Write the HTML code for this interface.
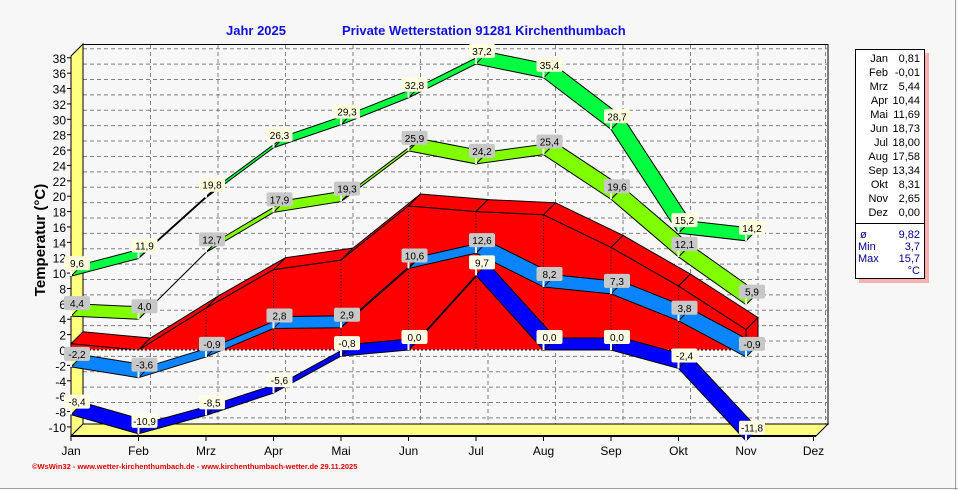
<!DOCTYPE html>
<html><head><meta charset="utf-8"><style>
html,body{margin:0;padding:0;background:#f7f7f7;}
svg{display:block;font-family:"Liberation Sans",sans-serif;}
</style></head><body>
<svg id="s" width="958" height="490" xmlns="http://www.w3.org/2000/svg">
<rect x="0" y="0" width="958" height="490" fill="#f7f7f7"/>
<line x1="0" y1="488.5" x2="958" y2="488.5" stroke="#a0a0a0"/>
<line x1="955.5" y1="0" x2="955.5" y2="490" stroke="#a0a0a0"/>
<text x="226" y="35" fill="#1010e0" font-weight="bold" font-size="13">Jahr  2025</text>
<text x="342" y="35" fill="#1010e0" font-weight="bold" font-size="13">Private Wetterstation 91281 Kirchenthumbach</text>
<text transform="translate(45,240) rotate(-90)" text-anchor="middle" font-weight="bold" font-size="15" fill="#000">Temperatur  (°C)</text>
<text x="32" y="469" fill="#e00000" font-size="7.5" font-weight="bold">©WsWin32 - www.wetter-kirchenthumbach.de - www.kirchenthumbach-wetter.de  29.11.2025</text>
<g id="g"></g>
<!-- legend -->
<rect x="859" y="53" width="70" height="230" fill="#ffb0b0"/>
<rect x="855.5" y="49.5" width="69" height="229" fill="#fff" stroke="#000"/>
<line x1="855" y1="223.5" x2="924" y2="223.5" stroke="#000"/>
<g font-size="11" fill="#000" text-anchor="end">
<text x="888" y="62">Jan</text><text x="920" y="62">0,81</text>
<text x="888" y="76">Feb</text><text x="920" y="76">-0,01</text>
<text x="888" y="90">Mrz</text><text x="920" y="90">5,44</text>
<text x="888" y="104">Apr</text><text x="920" y="104">10,44</text>
<text x="888" y="118">Mai</text><text x="920" y="118">11,69</text>
<text x="888" y="132">Jun</text><text x="920" y="132">18,73</text>
<text x="888" y="146">Jul</text><text x="920" y="146">18,00</text>
<text x="888" y="160">Aug</text><text x="920" y="160">17,58</text>
<text x="888" y="174">Sep</text><text x="920" y="174">13,34</text>
<text x="888" y="188">Okt</text><text x="920" y="188">8,31</text>
<text x="888" y="202">Nov</text><text x="920" y="202">2,65</text>
<text x="888" y="216">Dez</text><text x="920" y="216">0,00</text>
</g>
<g font-size="11" fill="#00008b">
<text x="860" y="238">ø</text><text x="920" y="238" text-anchor="end">9,82</text>
<text x="858" y="250">Min</text><text x="920" y="250" text-anchor="end">3,7</text>
<text x="858" y="262">Max</text><text x="920" y="262" text-anchor="end">15,7</text>
<text x="920" y="274" text-anchor="end">°C</text>
</g>
</svg>
<script>
var g=document.getElementById('g'),h='';
function Y(v){return 350-v*7.69;}
function X(i){return 71+i*67.5;}
var D=12;
// back wall
h+='<rect x="83" y="44.5" width="745" height="380" fill="#f7f7f7" stroke="#000"/>';
for(var v=-10;v<=38;v+=2){var y=Y(v)-D+3;h+='<line x1="83" x2="828" y1="'+y+'" y2="'+y+'" stroke="#808080" stroke-dasharray="4,3"/>';}
for(var i=1;i<12;i++){var x=X(i)+D;h+='<line x1="'+x+'" x2="'+x+'" y1="45" y2="424" stroke="#808080" stroke-dasharray="4,3"/>';}
// left wall & floor
h+='<polygon points="71,56 83,44 83,424 71,436" fill="#ffff80" stroke="#000"/>';
h+='<polygon points="71,436 83,424 828,424 816,436" fill="#ffff80" stroke="#000"/>';
h+='<line x1="71" y1="436" x2="816" y2="436" stroke="#000" stroke-width="2"/>';
for(var v=-10;v<=38;v+=2){var y=Y(v);h+='<line x1="67" x2="71" y1="'+y+'" y2="'+y+'" stroke="#000"/><text x="66" y="'+(y+5)+'" text-anchor="end" font-size="12">'+v+'</text>';}
var M=['Jan','Feb','Mrz','Apr','Mai','Jun','Jul','Aug','Sep','Okt','Nov','Dez'];
for(var i=0;i<12;i++){h+='<text x="'+X(i)+'" y="455" text-anchor="middle" font-size="12">'+M[i]+'</text><line x1="'+X(i)+'" x2="'+X(i)+'" y1="436" y2="441" stroke="#000"/>';}
function rib(d,c){var s='';for(var i=0;i<d.length-1;i++){var a=X(i),b=X(i+1),ya=Y(d[i]),yb=Y(d[i+1]);
s+='<polygon points="'+a+','+ya+' '+b+','+yb+' '+(b+D)+','+(yb-D)+' '+(a+D)+','+(ya-D)+'" fill="'+c+'" stroke="#000" stroke-width="1"/>';}return s;}
var mean=[0.81,-0.01,5.44,10.44,11.69,18.73,18,17.58,13.34,8.31,2.65];
// red area
var p='';for(var i=0;i<11;i++)p+=X(i)+','+Y(mean[i])+' ';
h+=rib(mean,'#ff0000');
h+='<polygon points="'+X(10)+','+Y(mean[10])+' '+(X(10)+D)+','+(Y(mean[10])-D)+' '+(X(10)+D)+','+(350-D)+' '+X(10)+',350" fill="#ff0000" stroke="#000"/>';
h+='<polygon points="'+p+X(10)+',350 '+X(0)+',350" fill="#ff0000" stroke="#000"/>';
for(var i=1;i<10;i++)h+='<line x1="'+X(i)+'" x2="'+X(i)+'" y1="'+Y(mean[i])+'" y2="350" stroke="#000" stroke-dasharray="1,2"/>';
h+='<line x1="71" x2="'+X(10)+'" y1="350" y2="350" stroke="#fff" stroke-dasharray="2,2"/>';
var lb=[-2.2,-3.6,-0.9,2.8,2.9,10.6,12.6,8.2,7.3,3.8,-0.9];
var db=[-8.4,-10.9,-8.5,-5.6,-0.8,0.0,9.7,0.0,0.0,-2.4,-11.8];
var lm=[4.4,4.0,12.7,17.9,19.3,25.9,24.2,25.4,19.6,12.1,5.9];
var gm=[9.6,11.9,19.8,26.3,29.3,32.8,37.2,35.4,28.7,15.2,14.2];
h+=rib(lb,'#0a84ff');h+=rib(db,'#0000ff');h+=rib(lm,'#80ff00');h+=rib(gm,'#00ff40');
function labs(d,bg){var s='';for(var i=0;i<d.length;i++){var x=X(i)+6,y=Y(d[i]);var t=d[i].toFixed(1).replace('.',',');
s+='<line x1="'+X(i)+'" x2="'+X(i)+'" y1="'+(y-6)+'" y2="'+y+'" stroke="#fff" stroke-width="2"/>';
s+='<rect x="'+(x-13)+'" y="'+(y-20)+'" width="26" height="14" rx="2" fill="'+bg+'"/>';
s+='<text x="'+x+'" y="'+(y-9)+'" text-anchor="middle" font-size="10" fill="#000">'+t+'</text>';}return s;}
h+=labs(lb,'#c8c8c8');h+=labs(db,'#ffffe8');h+=labs(lm,'#c8c8c8');h+=labs(gm,'#ffffe0');
g.innerHTML=h;
</script>
</body></html>
